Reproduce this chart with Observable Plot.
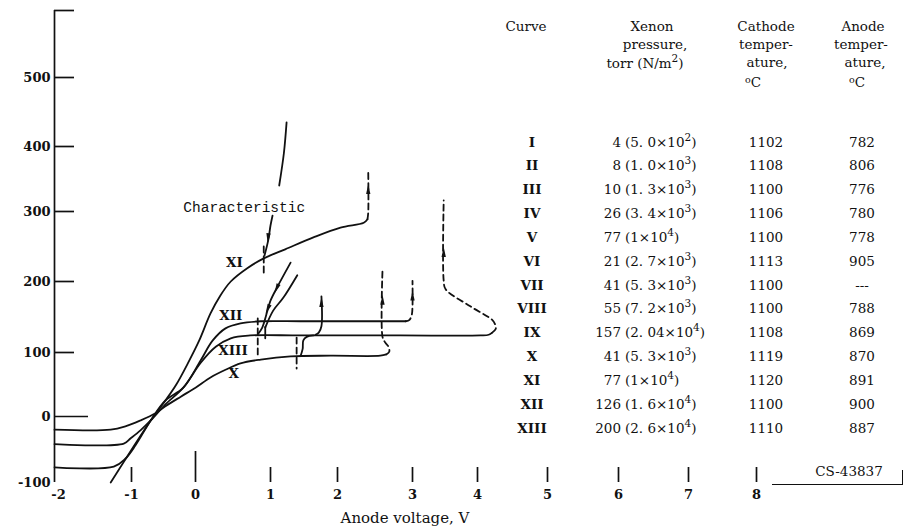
<!DOCTYPE html>
<html>
<head>
<meta charset="utf-8">
<script src="https://cdn.jsdelivr.net/npm/d3@7"></script>
<script src="https://cdn.jsdelivr.net/npm/@observablehq/plot@0.6"></script>
<style>
  html,body{margin:0;padding:0;background:#fff;}
  #wrap{position:relative;width:905px;height:532px;overflow:hidden;font-family:"DejaVu Serif",serif;color:#111;}
  #chart svg{display:block;}
  .t{position:absolute;white-space:nowrap;line-height:1;font-size:13.5px;}
  .c{transform:translate(-50%,-50%);}
  .r{transform:translate(-100%,-50%);}
  .l{transform:translate(0,-50%);}
  sup{font-size:10.5px;line-height:0;vertical-align:0.6em;}
  sup.deg{font-size:9.5px;vertical-align:0.45em;}
  .rule{position:absolute;border-color:#111;border-style:solid;border-width:0;}
</style>
</head>
<body>
<div id="wrap"><div id="chart"></div></div>
<script>
// ---------- axis ticks ----------
const xTickVals = [-2, -1, 0, 1, 2, 3, 4, 5, 6, 7, 8];
const yTickVals = [-100, 0, 100, 200, 300, 400, 500];
const yAxisTop = 600;

// ---------- curves: [anode voltage V, current] ----------
const curveX    = [[-2,-20],[-1.27,-20],[-1.08,-15],[-0.86,-6],[-0.625,5],[-0.47,16],[-0.23,31],[0,45],[0.2,61],[0.4,73],[0.6,83],[0.87,89],[1.3,94],[1.9,95],[2.57,95],[2.65,97]];
const curveXend = [[2.65,97],[2.69,101],[2.68,108],[2.63,115],[2.6,122],[2.6,216]];
const curveXI   = [[-1.27,-100],[-0.7,-6],[-0.47,25],[-0.3,50],[-0.12,83],[0.05,117],[0.2,155],[0.33,180],[0.47,200],[0.69,219],[0.91,233],[1.22,246],[1.64,263],[2.04,277],[2.35,284],[2.4,289]];
const curveXIend = [[2.4,289],[2.41,299],[2.41,360]];
const curveXII  = [[-2,-77],[-1.23,-76],[-1.08,-64],[-0.94,-44],[-0.7,-6],[-0.47,25],[-0.19,45],[0.07,88],[0.23,117],[0.4,134],[0.6,141],[0.87,144],[1.45,144],[2.17,144],[2.91,144]];
const curveXIIend = [[2.91,144],[2.96,146],[2.99,153],[3.0,165],[3.0,201]];
const curveXIII = [[-2,-42],[-1.1,-41],[-1.01,-33],[-0.86,-21],[-0.7,-6],[-0.47,19],[-0.19,45],[0.07,84],[0.27,108],[0.47,120],[0.73,124],[1.45,124],[2.84,124],[4.04,124],[4.16,125],[4.21,128]];
const curveXIIIend = [[4.21,128],[4.26,133],[4.25,140],[4.21,146],[3.89,165],[3.51,189],[3.48,201],[3.48,317]];
const stepBranch = [[1.45,95],[1.48,105],[1.49,117],[1.54,122],[1.64,124]];
const jumpBranch = [[1.67,125],[1.72,128],[1.76,137],[1.76,179]];
const lineA = [[1.3,227],[1.1,192],[1.0,173],[0.96,159],[0.89,135],[0.84,127]];
const lineB = [[1.4,209],[1.19,177],[1.04,159],[0.93,135]];
const upperLine = [[1.24,435],[1.2,390],[1.13,340]];
const pointer = [[1.03,294],[1.0,280],[0.97,259],[0.92,237]];
const markA = [[0.91,250],[0.91,208]];
const markB = [[0.83,148],[0.83,91]];
const markC = [[1.39,121],[1.39,75]];
const markD = [[0.93,136],[0.93,120]];

// ---------- arrowheads ----------
const arrowV   = [0.97, 2.41, 2.6, 3.0, 3.48, 1.76, 1.1, 0.97];
const arrowI   = [264, 332, 172, 178, 240, 169, 192, 163];
const arrowRot = [185, 0, 0, 0, 0, 0, 204, 204];

// ---------- curve labels ----------
const labelText = ["XI", "XII", "XIII", "X"];
const labelV = [0.52, 0.47, 0.5, 0.51];
const labelI = [227, 152, 103, 67];
const noteText = "Characteristic";
const noteV = 0.65, noteI = 306;

// ---------- table ----------
const curveIds  = ["I","II","III","IV","V","VI","VII","VIII","IX","X","XI","XII","XIII"];
const pressTorr = [4, 8, 10, 26, 77, 21, 41, 55, 157, 41, 77, 126, 200];
const pressMant = ["5. 0","1. 0","1. 3","3. 4","1","2. 7","5. 3","7. 2","2. 04","5. 3","1","1. 6","2. 6"];
const pressExp  = [2, 3, 3, 3, 4, 3, 3, 3, 4, 3, 4, 4, 4];
const cathodeT  = [1102, 1108, 1100, 1106, 1100, 1113, 1100, 1100, 1108, 1119, 1120, 1100, 1110];
const anodeT    = ["782","806","776","780","778","905","---","788","869","870","891","900","887"];

// ---------- hand-drawn axis calibration (tick value -> drawn position) ----------
const xCal = d3.scaleLinear().domain(xTickVals).range([54, 131, 195, 270, 337, 412, 477, 547, 618, 688, 756]);
const yCal = d3.scaleLinear().domain([-100, 0, 100, 200, 300, 400, 500, 600]).range([482, 416, 352, 281, 211, 146, 77, 10]);

// ---------- build ----------
const solidSegs = [curveX, curveXI, curveXII, curveXIII, stepBranch, jumpBranch, lineA, lineB, upperLine, pointer, markD];
const dashSegs  = [curveXend, curveXIend, curveXIIend, curveXIIIend, markA, markB, markC];
const toRows = segs => segs.flatMap((pts, k) => pts.map(([v, i]) => ({k, v, i})));
const solidRows = toRows(solidSegs);
const dashRows = toRows(dashSegs);
const arrows = arrowV.map((v, j) => ({v, i: arrowI[j], rot: arrowRot[j]}));
const labels = labelText.map((t, j) => ({t, v: labelV[j], i: labelI[j]}));

const arrowHead = {
  draw(ctx, size) {
    const s = Math.sqrt(size);
    ctx.moveTo(0, -s * 1.15);
    ctx.lineTo(s * 0.38, s * 0.6);
    ctx.lineTo(-s * 0.38, s * 0.6);
    ctx.closePath();
  }
};

const ink = "#111";
const chart = Plot.plot({
  width: 905,
  height: 532,
  marginLeft: 54,
  marginRight: 149,
  marginTop: 10,
  marginBottom: 50,
  x: {type: "linear", transform: xCal, domain: [54, 756], range: [54, 756], axis: null},
  y: {type: "linear", transform: yCal, domain: [482, 10], range: [482, 10], axis: null},
  style: {fontFamily: "DejaVu Serif", fontSize: "13px", color: ink, background: "white"},
  marks: [
    // y axis line and ticks
    Plot.ruleX([-2], {x: d => d, stroke: ink, strokeWidth: 1.7}),
    Plot.tickY(yTickVals.filter(d => d !== 0 && d !== -100).concat([yAxisTop]), {y: d => d, stroke: ink, strokeWidth: 1.7, insetRight: 682}),
    Plot.tickY([0], {y: d => d, stroke: ink, strokeWidth: 1.7, insetRight: 668}),
    Plot.text(yTickVals, {y: d => d, text: d => String(d), frameAnchor: "left", textAnchor: "end", dx: -4, fontWeight: "bold", fontSize: 13}),
    // x ticks (drawn upward from the bottom, no baseline)
    Plot.tickX(xTickVals.filter(d => d !== -2 && d !== 0), {x: d => d, stroke: ink, strokeWidth: 1.7, insetTop: 457}),
    Plot.tickX([0], {x: d => d, stroke: ink, strokeWidth: 1.7, insetTop: 441}),
    Plot.text(xTickVals.filter(d => d !== -2), {x: d => d, text: d => String(d), frameAnchor: "bottom", dy: 16, fontWeight: "bold", fontSize: 13}),
    Plot.text(xTickVals.filter(d => d === -2), {x: d => d, text: d => String(d), frameAnchor: "bottom", dy: 16, dx: 4, fontWeight: "bold", fontSize: 13}),
    // curves
    Plot.line(solidRows, {x: "v", y: "i", z: "k", curve: "catmull-rom", stroke: ink, strokeWidth: 1.8}),
    Plot.line(dashRows, {x: "v", y: "i", z: "k", curve: "catmull-rom", stroke: ink, strokeWidth: 1.8, strokeDasharray: "6,4"}),
    Plot.dot(arrows, {x: "v", y: "i", rotate: "rot", symbol: arrowHead, r: 3.2, fill: ink, stroke: "none"}),
    // labels
    Plot.text(labels, {x: "v", y: "i", text: "t", fontWeight: "bold", fontSize: 13.5}),
    Plot.text([noteText], {x: () => noteV, y: () => noteI, text: d => d, fontFamily: "Liberation Mono", fontSize: 14.5})
  ]
});
document.getElementById("chart").appendChild(chart);

// ---------- table and other text (HTML overlay) ----------
const wrap = document.getElementById("wrap");
function put(html, x, y, cls, extra) {
  const d = document.createElement("div");
  d.className = "t " + cls;
  d.style.left = x + "px";
  d.style.top = y + "px";
  d.innerHTML = html;
  if (extra) Object.assign(d.style, extra);
  wrap.appendChild(d);
}
// headers
put("Curve", 526, 27, "c");
put("Xenon", 652, 27, "c");
put("pressure,", 655, 45, "c");
put("torr (N/m<sup>2</sup>)", 645, 64, "c");
put("Cathode", 766, 27, "c");
put("temper-", 766, 45, "c");
put("ature,", 767, 63, "c");
put("<sup class='deg'>o</sup>C", 753, 83, "c");
put("Anode", 863, 27, "c");
put("temper-", 861, 45, "c");
put("ature,", 865, 63, "c");
put("<sup class='deg'>o</sup>C", 857, 83, "c");
// rows
curveIds.forEach((id, j) => {
  const y = 142.5 + j * 23.85;
  put(id, 532, y, "c", {fontWeight: "bold"});
  put(String(pressTorr[j]), 621, y, "r");
  put(`(${pressMant[j]}×10<sup>${pressExp[j]}</sup>)`, 625, y, "l");
  put(String(cathodeT[j]), 766, y, "c");
  put(anodeT[j], 862, y, "c");
});
// axis title
put("Anode voltage, V", 405, 518, "c", {fontSize: "15px"});
// figure number with its corner rule
put("CS-43837", 849, 472, "c");
const h = document.createElement("div");
h.className = "rule";
Object.assign(h.style, {left: "772px", top: "484px", width: "131px", height: "0px", borderTopWidth: "1.5px"});
wrap.appendChild(h);
const v = document.createElement("div");
v.className = "rule";
Object.assign(v.style, {left: "902px", top: "470px", width: "0px", height: "15px", borderLeftWidth: "1.5px"});
wrap.appendChild(v);
</script>
</body>
</html>
